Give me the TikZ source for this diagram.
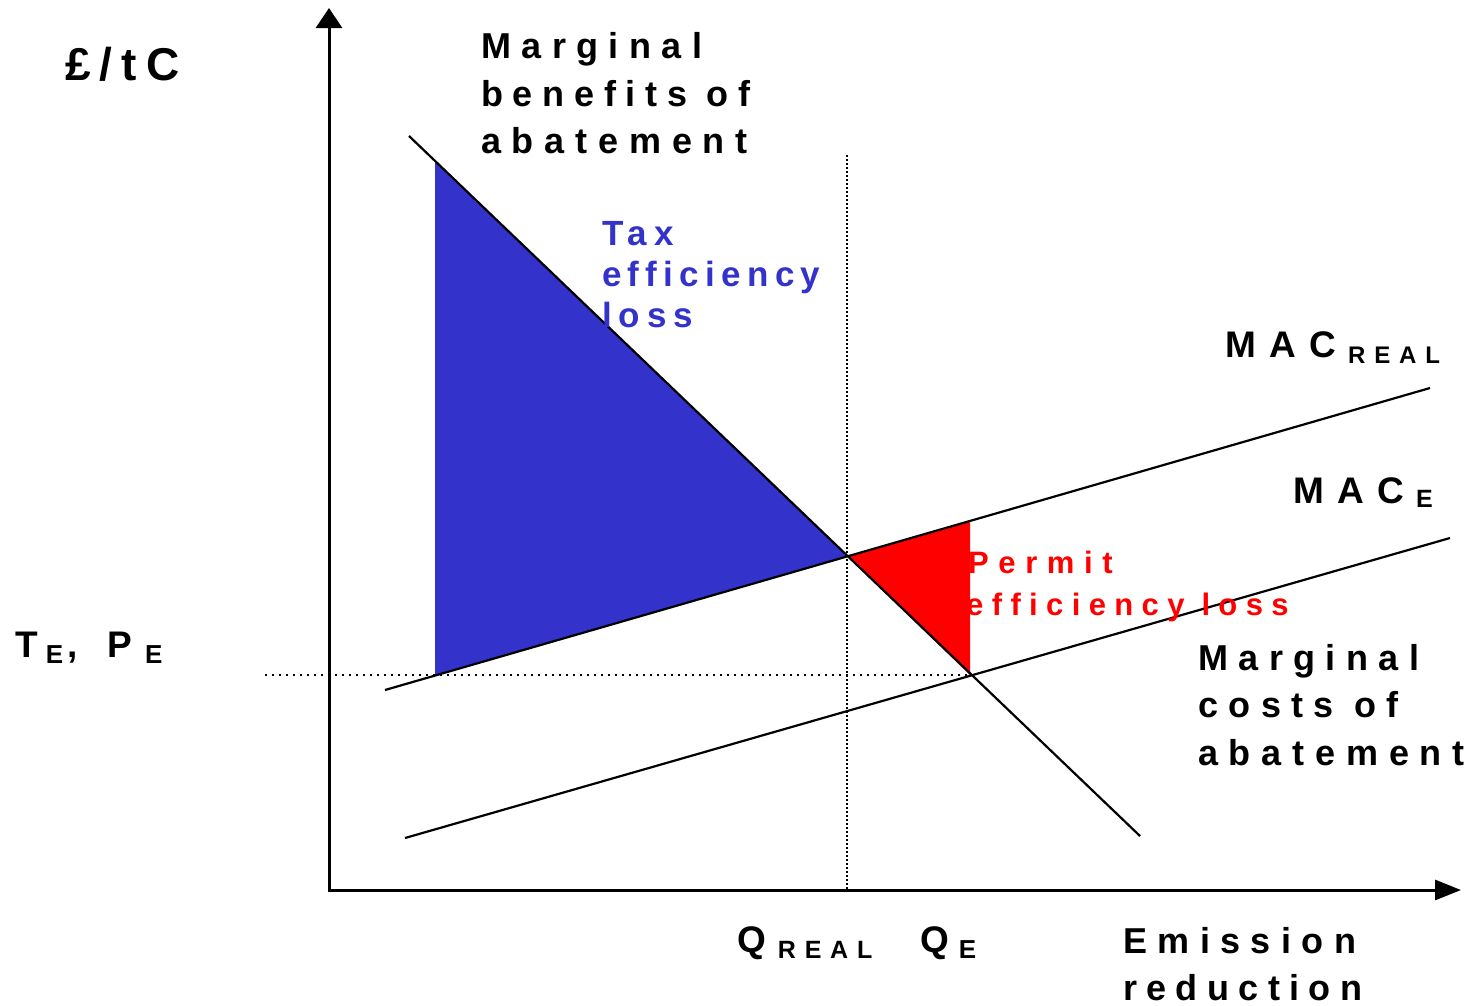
\documentclass[tikz,border=0pt]{standalone}
\usepackage{fontspec}
\setmainfont{Liberation Sans}
\usetikzlibrary{arrows.meta}
\newcommand\lsf[2]{\fontsize{#1}{#1}\selectfont\addfontfeature{LetterSpace=#2}}
\definecolor{tblue}{RGB}{51,51,204}
\definecolor{pred}{RGB}{255,0,0}
\begin{document}
\begin{tikzpicture}[x=1pt,y=-1pt,
  lbl/.style={anchor=base west, inner sep=0pt, font=\bfseries},
  curve/.style={line width=2.2pt},
  axis/.style={line width=3pt},
  hguide/.style={line width=2pt, dash pattern=on 2pt off 5pt},
  vguide/.style={line width=1.3pt, dash pattern=on 1.5pt off 2.5pt}]
\useasboundingbox (0,0) rectangle (1471,1005);

\coordinate (O) at (329,890);
\coordinate (ytip) at (329,8);
\coordinate (xtip) at (1461,890);
\coordinate (mb1) at (409,136);
\coordinate (mb2) at (1140,836);
\coordinate (mr1) at (385,690);
\coordinate (mr2) at (1430,388);
\coordinate (me1) at (405,838);
\coordinate (me2) at (1450,538);
\coordinate (bt) at (435,161);
\coordinate (bb) at (435,675);
\coordinate (X1) at (847,556);
\coordinate (rt) at (970,521);
\coordinate (X2) at (970,675);
\coordinate (hd) at (265,675);
\coordinate (vt) at (847,155);
\coordinate (vb) at (847,890);

% shaded areas
\fill[tblue] (bt) -- (bb) -- (X1) -- cycle;
\fill[pred] (X1) -- (rt) -- (X2) -- cycle;

% guides
\draw[hguide] (hd) -- (X2);
\draw[vguide] (vt) -- (vb);

% curves
\draw[curve] (mb1) -- (mb2);
\draw[curve] (mr1) -- (mr2);
\draw[curve] (me1) -- (me2);

% axes
\draw[axis,-{Triangle[length=20pt,width=26pt]}] ([yshift=1.5pt]O) -- (ytip);
\draw[axis,-{Triangle[length=26pt,width=20pt]}] ([xshift=-1.5pt]O) -- (xtip);

% labels
\node[lbl] (unit) at (65,80) {\lsf{46}{20}£/tC};
\node[lbl] (mb1t) at (481,58) {\lsf{36}{29}Marginal};
\node[lbl] (mb2t) at (481,106) {\lsf{36}{27}benefits of};
\node[lbl] (mb3t) at (481,153) {\lsf{36}{30}abatement};

\node[lbl,text=tblue] (tax1) at (602,245) {\lsf{35}{20}Tax};
\node[lbl,text=tblue] (tax2) at (602,286) {\lsf{35}{18}efficiency};
\node[lbl,text=tblue] (tax3) at (602,327) {\lsf{35}{20}loss};

\node[lbl] (macr) at (1225,357) {\lsf{37}{36}MAC\hspace{12pt}\raisebox{-6pt}{\lsf{24}{37}REAL}};
\node[lbl] (mace) at (1293,503) {\lsf{37}{36}MAC\hspace{12pt}\raisebox{-4pt}{\lsf{25}{35}E}};

\node[lbl,text=pred] (perm1) at (968,573) {\lsf{31}{31}Permit};
\node[lbl,text=pred] (perm2) at (966,615) {\lsf{31}{27}efficiency loss};

\node[lbl] (mc1) at (1198,670) {\lsf{36}{29}Marginal};
\node[lbl] (mc2) at (1198,717) {\lsf{36}{29}costs of};
\node[lbl] (mc3) at (1198,765) {\lsf{36}{30}abatement};

\node[lbl] (tepe) at (15,657) {\lsf{37}{30}T\hspace{8pt}\raisebox{-6pt}{\lsf{26}{30}E}\hspace{4pt},\hspace{30pt}P\hspace{13pt}\raisebox{-6pt}{\lsf{26}{30}E}};

\node[lbl] (qreal) at (737,952) {\lsf{37}{30}Q\hspace{12pt}\raisebox{-6pt}{\lsf{25}{35}REAL}};
\node[lbl] (qe) at (920,952) {\lsf{37}{30}Q\hspace{10pt}\raisebox{-6pt}{\lsf{26}{35}E}};

\node[lbl] (em1) at (1123,953) {\lsf{36}{29}Emission};
\node[lbl] (em2) at (1123,1000) {\lsf{36}{26}reduction};
\end{tikzpicture}
\end{document}
